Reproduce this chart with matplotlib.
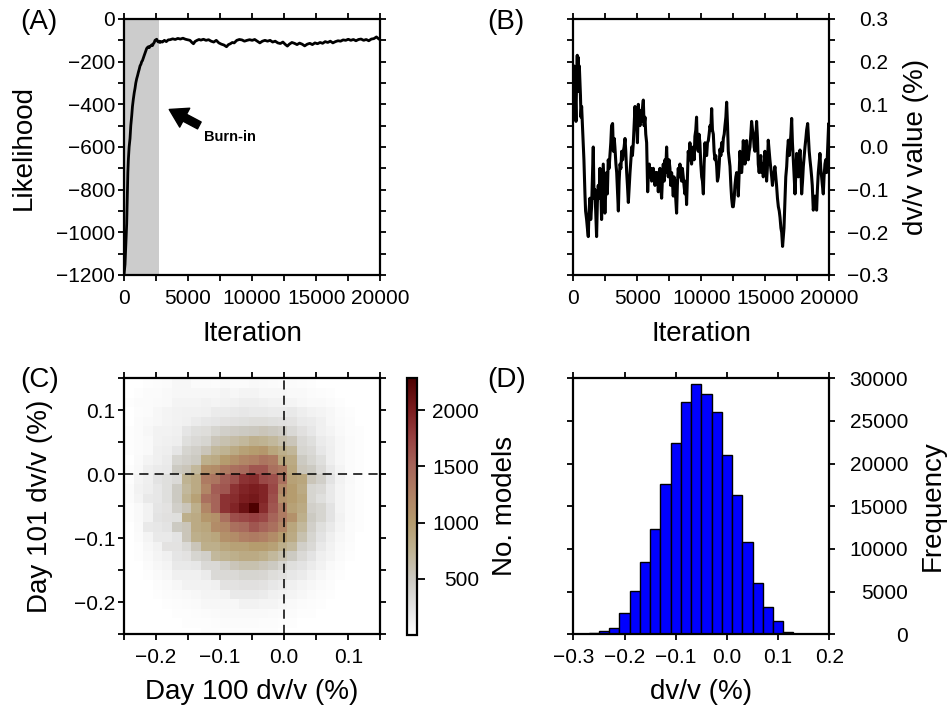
import numpy as np
import matplotlib
matplotlib.use('Agg')
import matplotlib.pyplot as plt
from matplotlib.ticker import MultipleLocator, FuncFormatter, FixedLocator
from matplotlib.colors import LinearSegmentedColormap, Normalize

plt.rcParams['font.family'] = ['Liberation Sans', 'DejaVu Sans']

# ---------------- data ----------------
# (A) likelihood trace
a_iter = [0, 80, 156, 210, 260, 300, 340, 400, 470, 530, 600, 660, 730, 800, 860, 920, 990,
          1060, 1120, 1190, 1250, 1320, 1380, 1440, 1510, 1570, 1640, 1700, 1770, 1840, 1900,
          1970, 2030, 2100, 2160, 2230, 2290, 2360, 2420, 2490, 2550, 2620, 2680, 2750, 2810,
          2900, 3000, 3150, 3300, 3450, 3600, 3800, 4000, 4200, 4400, 4600, 4800, 5000, 5150,
          5300, 5420, 5550, 5700, 5850, 6000, 6200, 6400, 6600, 6800, 7000, 7200, 7400, 7600,
          7800, 8000, 8150, 8300, 8450, 8600, 8800, 9000, 9200, 9400, 9600, 9800, 10000, 10200,
          10400, 10600, 10800, 11000, 11200, 11400, 11600, 11800, 12000, 12200, 12400, 12600,
          12750, 12900, 13100, 13300, 13500, 13700, 13900, 14100, 14300, 14500, 14700, 14900,
          15100, 15300, 15500, 15700, 15900, 16100, 16300, 16500, 16700, 16900, 17100, 17300,
          17500, 17700, 17900, 18100, 18300, 18500, 18700, 18900, 19100, 19300, 19500, 19700,
          19850, 20000]
a_lik = [-1200, -1150, -1040, -960, -830, -720, -660, -600, -560, -500, -455, -410, -375, -345,
         -325, -300, -280, -265, -250, -235, -220, -212, -200, -195, -182, -172, -160, -150,
         -138, -133, -130, -134, -128, -126, -121, -124, -116, -110, -100, -97, -95, -104,
         -108, -104, -110, -106, -108, -100, -106, -98, -97, -93, -96, -91, -94, -90, -95,
         -98, -100, -110, -116, -105, -100, -96, -99, -95, -100, -97, -104, -108, -100, -112,
         -118, -122, -130, -120, -116, -110, -112, -100, -96, -98, -104, -100, -97, -100, -96,
         -104, -112, -104, -100, -104, -100, -108, -104, -112, -115, -108, -120, -127, -118,
         -110, -114, -120, -113, -118, -126, -118, -114, -120, -112, -116, -110, -114, -106,
         -110, -104, -112, -106, -102, -104, -98, -100, -95, -100, -96, -102, -96, -94, -100,
         -96, -102, -94, -92, -84, -92, -98]
burn_in = 2700

# (B) dv/v trace
b_iter = [0, 60, 130, 210, 260, 310, 360, 390, 430, 470, 520, 560, 600, 650, 700, 780, 830, 910,
          960, 1040, 1100, 1170, 1230, 1300, 1360, 1430, 1500, 1560, 1620, 1690, 1750, 1820,
          1880, 1950, 2010, 2080, 2140, 2210, 2280, 2340, 2400, 2470, 2540, 2600, 2660, 2730,
          2800, 2860, 2930, 2990, 3070, 3130, 3200, 3250, 3330, 3390, 3450, 3520, 3580, 3650,
          3720, 3780, 3850, 3910, 3970, 4040, 4100, 4170, 4230, 4300, 4370, 4430, 4500, 4560,
          4620, 4690, 4750, 4820, 4890, 4950, 5010, 5080, 5140, 5210, 5280, 5340, 5400, 5470,
          5530, 5600, 5660, 5730, 5810, 5870, 5940, 6000, 6060, 6120, 6180, 6250, 6320, 6380,
          6450, 6510, 6580, 6640, 6700, 6770, 6830, 6900, 6970, 7030, 7100, 7160, 7220, 7290,
          7350, 7420, 7480, 7550, 7610, 7680, 7740, 7810, 7870, 7940, 8000, 8070, 8130, 8200,
          8260, 8330, 8390, 8460, 8520, 8590, 8650, 8720, 8790, 8850, 8920, 8980, 9050, 9110,
          9170, 9240, 9310, 9370, 9440, 9500, 9570, 9630, 9690, 9760, 9820, 9890, 9960, 10030,
          10090, 10160, 10220, 10290, 10350, 10420, 10480, 10550, 10610, 10680, 10740, 10810,
          10870, 10940, 11000, 11070, 11130, 11200, 11260, 11330, 11400, 11460, 11530, 11590,
          11660, 11720, 11790, 11850, 11920, 11980, 12050, 12110, 12180, 12240, 12310, 12370,
          12440, 12500, 12570, 12630, 12700, 12760, 12830, 12890, 12960, 13020, 13090, 13150,
          13220, 13280, 13350, 13410, 13480, 13540, 13610, 13670, 13740, 13800, 13870, 13930,
          14000, 14060, 14130, 14190, 14260, 14320, 14390, 14450, 14520, 14580, 14650, 14710,
          14780, 14840, 14900, 14970, 15030, 15100, 15160, 15230, 15300, 15360, 15430, 15500,
          15560, 15620, 15690, 15750, 15820, 15880, 15950, 16020, 16090, 16150, 16220, 16280,
          16350, 16410, 16460, 16540, 16600, 16670, 16730, 16800, 16870, 16930, 17000, 17060,
          17120, 17190, 17240, 17320, 17390, 17450, 17520, 17580, 17650, 17710, 17780, 17840,
          17910, 17970, 18040, 18100, 18170, 18230, 18310, 18370, 18430, 18490, 18560, 18620,
          18670, 18750, 18810, 18880, 18940, 19010, 19070, 19140, 19200, 19270, 19330, 19400,
          19460, 19530, 19590, 19660, 19720, 19790, 19850, 19900, 19950, 20000]
b_dvv = [0.10, 0.19, 0.15, 0.06, 0.17, 0.215, 0.16, 0.21, 0.13, 0.19, 0.15, 0.12, 0.07, 0.095,
         0.06, 0.01, -0.03, -0.11, -0.15, -0.17, -0.19, -0.21, -0.15, -0.12, -0.17, -0.14,
         -0.06, 0.0, -0.12, -0.10, -0.15, -0.21, -0.13, -0.09, -0.12, -0.05, -0.09, -0.17,
         -0.10, -0.04, -0.09, -0.155, -0.10, -0.06, -0.11, -0.03, -0.05, -0.02, 0.01, 0.05,
         0.055, -0.01, 0.02, 0.0, -0.04, -0.06, -0.10, -0.15, -0.08, -0.04, -0.05, -0.01,
         -0.03, -0.01, 0.0, 0.02, -0.01, -0.06, -0.09, -0.13, -0.09, -0.06, -0.03, 0.0, -0.02,
         0.01, 0.05, 0.095, 0.05, 0.06, 0.01, 0.10, 0.07, 0.05, 0.085, 0.06, 0.09, 0.11, 0.05,
         0.07, 0.03, 0.01, -0.105, -0.06, -0.04, -0.07, -0.05, -0.08, -0.06, -0.05, -0.07,
         -0.09, -0.06, -0.08, -0.06, -0.105, -0.07, -0.05, -0.09, -0.12, -0.07, -0.04, -0.08,
         -0.03, -0.06, 0.0, -0.05, -0.07, -0.03, -0.05, -0.09, -0.06, -0.08, -0.115, -0.07,
         -0.08, -0.12, -0.155, -0.09, -0.05, -0.07, -0.04, -0.06, -0.08, -0.05, -0.07, -0.09,
         -0.11, -0.08, -0.135, -0.07, -0.01, -0.03, 0.01, -0.02, -0.04, -0.01, 0.0, -0.03,
         0.025, 0.04, 0.07, 0.0, -0.01, 0.03, 0.01, -0.04, -0.07, -0.08, -0.11, -0.04, 0.01,
         -0.02, -0.02, 0.01, 0.015, 0.03, 0.05, 0.04, 0.09, 0.04, 0.03, -0.01, -0.03, -0.02,
         -0.045, -0.08, -0.07, -0.04, -0.005, -0.02, 0.01, -0.01, 0.02, 0.03, 0.05, 0.07,
         0.105, 0.05, -0.01, -0.03, -0.045, -0.09, -0.12, -0.14, -0.14, -0.12, -0.09, -0.07,
         -0.06, -0.08, -0.115, -0.06, -0.01, -0.04, -0.06, -0.03, 0.015, -0.02, -0.04, -0.02,
         0.015, -0.02, -0.03, -0.01, 0.0, 0.03, 0.06, 0.04, 0.03, 0.0, -0.01, 0.02, 0.06,
         0.02, -0.04, -0.06, -0.04, -0.02, -0.06, -0.04, -0.07, -0.05, -0.01, -0.03, -0.08,
         -0.05, 0.016, -0.01, -0.03, -0.05, -0.07, -0.09, -0.07, -0.06, -0.046, -0.07, -0.09,
         -0.12, -0.14, -0.15, -0.165, -0.19, -0.20, -0.233, -0.21, -0.19, -0.12, -0.07,
         -0.046, -0.01, 0.016, -0.02, 0.0, 0.03, 0.067, 0.01, -0.03, -0.06, -0.11, -0.06,
         -0.015, -0.04, -0.07, -0.03, -0.007, -0.05, -0.11, -0.08, -0.046, -0.02, 0.0, 0.02,
         0.04, 0.055, 0.02, -0.01, -0.03, -0.05, -0.07, -0.09, -0.148, -0.13, -0.115, -0.14,
         -0.148, -0.10, -0.06, -0.04, -0.015, -0.05, -0.07, -0.09, -0.11, -0.07, -0.04,
         -0.03, -0.06, -0.02, 0.02, 0.055, 0.0]

# (C) 2-D histogram, counts / 10 ; rows top (day101 = +0.15) to bottom, cols left (day100 = -0.25) to right
c_bin = 0.015
c_x0, c_y0 = -0.25, 0.15
c_counts10 = [
    [0, 0, 2, 3, 4, 8, 8, 4, 4, 3, 5, 4, 4, 6, 5, 4, 3, 4, 3, 2, 0, 0, 0, 0, 0, 0, 0],
    [0, 2, 4, 4, 6, 8, 8, 8, 8, 8, 10, 8, 10, 10, 8, 8, 8, 6, 6, 4, 3, 2, 0, 0, 0, 0, 0],
    [2, 4, 4, 5, 6, 10, 10, 10, 12, 10, 12, 13, 16, 16, 14, 12, 12, 10, 8, 6, 6, 4, 2, 0, 0, 0, 0],
    [0, 3, 4, 8, 10, 12, 13, 13, 14, 18, 18, 20, 22, 20, 20, 18, 18, 20, 16, 12, 10, 8, 4, 2, 0, 0, 0],
    [0, 4, 6, 8, 10, 12, 14, 18, 22, 24, 26, 28, 30, 32, 32, 30, 28, 26, 20, 18, 14, 8, 5, 3, 0, 0, 0],
    [2, 4, 8, 12, 12, 14, 24, 30, 32, 40, 45, 48, 50, 52, 55, 52, 48, 36, 28, 22, 14, 10, 6, 3, 2, 0, 0],
    [2, 4, 6, 12, 14, 16, 30, 35, 40, 55, 60, 65, 70, 78, 75, 70, 62, 55, 36, 30, 18, 14, 8, 4, 2, 0, 0],
    [2, 4, 6, 14, 16, 24, 40, 45, 55, 70, 75, 85, 95, 100, 105, 90, 80, 72, 40, 35, 22, 15, 8, 4, 2, 0, 0],
    [0, 5, 10, 14, 18, 40, 45, 50, 80, 85, 100, 110, 120, 125, 135, 130, 90, 85, 50, 40, 30, 15, 8, 4, 2, 0, 0],
    [2, 6, 15, 18, 20, 50, 55, 70, 110, 115, 130, 140, 145, 160, 160, 140, 130, 90, 55, 50, 35, 20, 10, 4, 2, 0, 0],
    [2, 10, 15, 25, 30, 35, 75, 85, 130, 135, 155, 165, 185, 190, 170, 165, 140, 95, 90, 55, 45, 25, 12, 6, 2, 0, 0],
    [4, 12, 16, 22, 30, 50, 70, 85, 120, 155, 160, 185, 195, 200, 195, 170, 120, 100, 85, 40, 35, 20, 10, 5, 2, 0, 0],
    [4, 10, 20, 22, 30, 50, 75, 95, 140, 150, 185, 190, 200, 205, 195, 165, 110, 100, 90, 40, 30, 20, 10, 5, 2, 0, 0],
    [2, 6, 12, 24, 26, 45, 55, 80, 120, 150, 185, 195, 210, 228, 190, 160, 130, 95, 85, 45, 40, 25, 10, 5, 2, 0, 0],
    [2, 6, 12, 25, 28, 30, 80, 85, 105, 110, 140, 165, 170, 175, 170, 150, 130, 110, 80, 50, 40, 25, 12, 5, 2, 0, 0],
    [0, 5, 20, 22, 25, 50, 55, 85, 90, 115, 120, 140, 145, 160, 150, 140, 120, 90, 70, 45, 30, 20, 10, 4, 2, 0, 0],
    [0, 4, 10, 20, 20, 25, 55, 80, 85, 90, 110, 115, 125, 130, 125, 115, 100, 85, 60, 40, 25, 15, 8, 4, 0, 0, 0],
    [0, 2, 8, 12, 26, 26, 35, 55, 80, 80, 90, 95, 95, 100, 100, 95, 80, 70, 45, 35, 20, 12, 6, 3, 0, 0, 0],
    [0, 2, 6, 10, 14, 24, 26, 40, 45, 70, 75, 80, 85, 85, 80, 70, 60, 50, 35, 25, 15, 10, 5, 2, 0, 0, 0],
    [0, 0, 4, 8, 10, 20, 20, 22, 35, 35, 45, 55, 60, 60, 55, 50, 40, 30, 25, 18, 12, 6, 3, 0, 0, 0, 0],
    [0, 0, 2, 5, 8, 14, 14, 14, 18, 35, 35, 35, 40, 40, 38, 32, 28, 22, 18, 12, 8, 4, 2, 0, 0, 0, 0],
    [0, 0, 0, 3, 5, 8, 12, 12, 12, 14, 26, 26, 28, 28, 26, 22, 18, 14, 10, 8, 5, 3, 0, 0, 0, 0, 0],
    [0, 0, 0, 2, 4, 5, 6, 8, 10, 10, 12, 20, 20, 20, 18, 14, 12, 10, 8, 5, 3, 2, 0, 0, 0, 0, 0],
    [0, 0, 0, 0, 2, 3, 4, 5, 8, 8, 8, 8, 12, 12, 10, 10, 8, 6, 4, 3, 2, 0, 0, 0, 0, 0, 0],
    [0, 0, 0, 0, 0, 2, 2, 3, 4, 5, 6, 6, 6, 6, 6, 5, 4, 4, 2, 2, 0, 0, 0, 0, 0, 0, 0],
    [0, 0, 0, 0, 0, 0, 2, 2, 2, 3, 4, 4, 4, 4, 3, 3, 2, 2, 0, 0, 0, 0, 0, 0, 0, 0, 0],
    [0, 0, 0, 0, 0, 0, 0, 0, 2, 2, 2, 2, 2, 2, 2, 2, 0, 0, 0, 0, 0, 0, 0, 0, 0, 0, 0],
]
c_vmax = 2285
cbar_ticks = [500, 1000, 1500, 2000]

# (D) histogram of dv/v
d_centers = [-0.28, -0.26, -0.24, -0.22, -0.20, -0.18, -0.16, -0.14, -0.12, -0.10, -0.08, -0.06,
             -0.04, -0.02, 0.00, 0.02, 0.04, 0.06, 0.08, 0.10, 0.12, 0.14, 0.16]
d_counts = [40, 120, 430, 780, 2460, 5080, 8440, 12300, 17580, 22380, 27270, 29300, 28160,
            26020, 20980, 16330, 10860, 6050, 3240, 1600, 310, 80, 10]
d_width = 0.02

# ---------------- figure ----------------
W, H = 947, 710
fig = plt.figure(figsize=(W / 100, H / 100), dpi=100)


def ax_at(l, t, r, b):
    return fig.add_axes([l / W, 1 - b / H, (r - l) / W, (b - t) / H])


def px2pt(p):
    return p * 72.0 / 100.0


MAJ = px2pt(6)
MIN = px2pt(6)
TFS = 15
LFS = 20


def minus(s):
    return s.replace('-', '\u2212')


fmt_int = FuncFormatter(lambda v, p: minus('%d' % int(round(v))))
fmt_1 = FuncFormatter(lambda v, p: minus('%.1f' % (round(v, 2) + 0.0)))


def style(ax, xmaj, xmin, ymaj, ymin, xfmt, yfmt, yside):
    for s in ax.spines.values():
        s.set_linewidth(1.6)
        s.set_zorder(5)
    ax.xaxis.set_major_locator(MultipleLocator(xmaj))
    ax.xaxis.set_minor_locator(MultipleLocator(xmin))
    ax.yaxis.set_major_locator(MultipleLocator(ymaj))
    ax.yaxis.set_minor_locator(MultipleLocator(ymin))
    ax.xaxis.set_major_formatter(xfmt)
    ax.yaxis.set_major_formatter(yfmt)
    ax.tick_params(which='both', direction='out', top=True, right=True, bottom=True,
                   left=True, width=1.3, labelsize=TFS, color='black')
    ax.tick_params(which='major', length=MAJ)
    ax.tick_params(which='minor', length=MIN)
    ax.tick_params(axis='x', which='major', pad=px2pt(8))
    if yside == 'left':
        ax.tick_params(axis='y', which='major', labelleft=True, labelright=False,
                       pad=px2pt(3))
    else:
        ax.tick_params(axis='y', which='major', labelleft=False, labelright=True)


# ---- (A) ----
axA = ax_at(124, 19, 380.3, 275)
axA.axvspan(0, burn_in, color='#cccccc', lw=0, zorder=1)
axA.plot(a_iter, a_lik, color='black', lw=2.0, zorder=3)
axA.set_xlim(0, 20000)
axA.set_ylim(-1200, 0)
style(axA, 5000, 2500, 200, 100, fmt_int, fmt_int, 'left')
axA.annotate('', xy=(3340, -418), xytext=(6070, -505),
             arrowprops=dict(arrowstyle='simple,head_width=1.1,head_length=0.9,tail_width=0.4',
                             fc='black', ec='black', mutation_scale=14), zorder=4)
axA.text(6250, -553, 'Burn-in', fontsize=10.5, fontweight='bold', ha='left', va='center')

# ---- (B) ----
axB = ax_at(573.3, 19, 829.3, 275)
axB.plot(b_iter, b_dvv, color='black', lw=2.2, zorder=3)
axB.set_xlim(0, 20000)
axB.set_ylim(-0.3, 0.3)
style(axB, 5000, 2500, 0.1, 0.05, fmt_int, fmt_1, 'right')
axB.tick_params(axis='y', which='major', pad=px2pt(888 - 829.3) - MAJ)

# ---- (C) ----
bilbao_r = LinearSegmentedColormap.from_list('bilbao_r', [
    (0.00, (1.00, 1.00, 1.00)),
    (0.10, (0.90, 0.90, 0.90)),
    (0.22, (0.80, 0.79, 0.76)),
    (0.33, (0.75, 0.70, 0.57)),
    (0.44, (0.71, 0.61, 0.43)),
    (0.55, (0.69, 0.50, 0.39)),
    (0.66, (0.65, 0.39, 0.35)),
    (0.77, (0.59, 0.25, 0.25)),
    (0.88, (0.48, 0.11, 0.12)),
    (1.00, (0.30, 0.00, 0.00)),
])
axC = ax_at(124, 378.3, 380.3, 634.3)
Z = np.array(c_counts10, dtype=float) * 10
ny, nx = Z.shape
xe = c_x0 + c_bin * np.arange(nx + 1)
ye = c_y0 - c_bin * np.arange(ny + 1)
norm = Normalize(0, c_vmax)
mesh = axC.pcolormesh(xe, ye, Z, cmap=bilbao_r, norm=norm, shading='flat', zorder=1)
axC.axvline(0, color='black', lw=1.1, ls=(0, (6, 4)), zorder=3)
axC.axhline(0, color='black', lw=1.1, ls=(0, (6, 4)), zorder=3)
axC.set_xlim(-0.25, 0.15)
axC.set_ylim(-0.25, 0.15)
style(axC, 0.1, 0.05, 0.1, 0.05, fmt_1, fmt_1, 'left')
axC.xaxis.set_major_locator(FixedLocator([-0.2, -0.1, 0.0, 0.1]))
axC.yaxis.set_major_locator(FixedLocator([-0.2, -0.1, 0.0, 0.1]))

cax = ax_at(406.7, 378, 416.7, 635)
cb = fig.colorbar(mesh, cax=cax, orientation='vertical')
cb.outline.set_linewidth(1.6)
cb.set_ticks(cbar_ticks)
cb.ax.yaxis.set_major_formatter(FuncFormatter(lambda v, p: '%d' % v))
cb.ax.tick_params(which='major', direction='out', length=px2pt(8), width=1.3,
                  labelsize=TFS, right=True, left=False, labelright=True,
                  pad=px2pt(479 - 416.7) - px2pt(8))
cb.ax.minorticks_off()

# ---- (D) ----
axD = ax_at(573.3, 378.3, 829.3, 634.3)
axD.bar(d_centers, d_counts, width=d_width, color='#0000ff', edgecolor='black', lw=1.0,
        zorder=2)
axD.set_xlim(-0.3, 0.2)
axD.set_ylim(0, 30000)
style(axD, 0.1, 0.1, 5000, 5000, fmt_1, fmt_int, 'right')
axD.tick_params(axis='y', which='major', pad=px2pt(908 - 829.3) - MAJ)

# right-aligned right-side tick labels
for ax in (axB, axD, cb.ax):
    for t in ax.yaxis.get_majorticklabels():
        t.set_horizontalalignment('right')

# ---- labels ----
def ftext(x, y, s, **kw):
    fig.text(x / W, 1 - y / H, s, **kw)


ftext(20, 22, '(A)', fontsize=LFS, ha='left', va='center')
ftext(487, 22, '(B)', fontsize=LFS, ha='left', va='center')
ftext(20, 380, '(C)', fontsize=LFS, ha='left', va='center')
ftext(487, 380, '(D)', fontsize=LFS, ha='left', va='center')

ftext(24, 147, 'Likelihood', fontsize=LFS, rotation=90, ha='center', va='center')
ftext(252, 334, 'Iteration', fontsize=LFS, ha='center', va='center')
ftext(701, 334, 'Iteration', fontsize=LFS, ha='center', va='center')
ftext(916, 147, 'dv/v value (%)', fontsize=LFS, rotation=90, ha='center', va='center')
ftext(40, 506, 'Day 101 dv/v (%)', fontsize=LFS, rotation=90, ha='center', va='center')
ftext(252, 692, 'Day 100 dv/v (%)', fontsize=LFS, ha='center', va='center')
ftext(505, 506, 'No. models', fontsize=LFS, rotation=90, ha='center', va='center')
ftext(701, 692, 'dv/v (%)', fontsize=LFS, ha='center', va='center')
ftext(933, 506, 'Frequency', fontsize=LFS, rotation=90, ha='center', va='center')

fig.savefig('out.png', dpi=100)
